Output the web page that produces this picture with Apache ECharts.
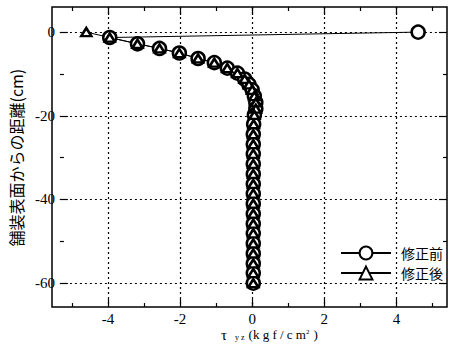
<!DOCTYPE html>
<html><head><meta charset="utf-8">
<script src="https://cdn.jsdelivr.net/npm/echarts@6/dist/echarts.min.js"></script>
<style>html,body{margin:0;padding:0;background:#fff}#c{width:449px;height:350px}</style>
</head><body><div id="c"></div>
<script>
// ---- data ----
const seriesNames = ['修正前', '修正後'];
const depthCm   = [0, -1.3, -2.8, -3.9, -5.0, -6.3, -7.3, -8.6, -9.8, -11.2, -12.5, -13.8, -15.3, -16.8, -18.3, -19.8,
                   -22.0, -24.4, -26.8, -29.1, -31.5, -33.9, -36.3, -38.6, -41.0, -43.4, -45.8, -48.1, -50.5, -52.9, -55.3, -57.6, -60.0];
const tauBefore = [4.6, -3.95, -3.18, -2.57, -2.02, -1.50, -1.05, -0.69, -0.41, -0.21, -0.09, 0.00, 0.06, 0.10, 0.10, 0.06,
                   0.04, 0.03, 0.03, 0.03, 0.03, 0.03, 0.03, 0.03, 0.03, 0.03, 0.03, 0.03, 0.03, 0.03, 0.03, 0.03, 0.03];
const tauAfter  = [-4.6, -3.95, -3.18, -2.57, -2.02, -1.50, -1.05, -0.69, -0.41, -0.21, -0.09, 0.00, 0.06, 0.10, 0.10, 0.06,
                   0.04, 0.03, 0.03, 0.03, 0.03, 0.03, 0.03, 0.03, 0.03, 0.03, 0.03, 0.03, 0.03, 0.03, 0.03, 0.03, 0.03];
const xTicks = [-4, -2, 0, 2, 4];          // labelled ticks
const xOuterMinor = [-5, 5];               // minor ticks beyond the labelled range
const yTicks = [-60, -40, -20, 0];         // labelled ticks
const xRange = [-5.55, 5.4];               // plotted extent
const yRange = [-65.7, 6];
const yTitle = '舗装表面からの距離(cm)';

// ---- layout ----
const L = 52, T = 7, W = 395, H = 300;
const kx = W / (xRange[1] - xRange[0]);
const ky = H / (yRange[1] - yRange[0]);
const gx1Left = L + (xTicks[0] - xRange[0]) * kx;
const gx1W = (xTicks[xTicks.length - 1] - xTicks[0]) * kx;
const gx2Left = L + (xOuterMinor[0] - xRange[0]) * kx;
const gx2W = (xOuterMinor[1] - xOuterMinor[0]) * kx;
const gy3Top = T + (yRange[1] - yTicks[yTicks.length - 1]) * ky;
const gy3H = (yTicks[yTicks.length - 1] - yTicks[0]) * ky;

const serif = 'Liberation Serif';
const jp = 'Noto Sans CJK JP';
const dotted = { color: '#000', width: 1.2, type: [2, 3] };
const tickStyle = { color: '#000', width: 1.2 };
const hiddenVal = (gi) => ({ gridIndex: gi, type: 'value', min: 0, max: 1, show: false });

const chart = echarts.init(document.getElementById('c'), null, { renderer: 'svg' });
chart.setOption({
  animation: false,
  backgroundColor: '#fff',
  title: {
    text: '{t|τ}{s|y z}{p|(k g f / c m}{sup|2}{p|)}',
    left: 221, top: 328, padding: 0,
    textStyle: {
      fontWeight: 'normal',
      rich: {
        t: { fontFamily: serif, fontSize: 15, fontWeight: 'normal', color: '#000', lineHeight: 13 },
        s: { fontFamily: serif, fontSize: 8, fontWeight: 'normal', color: '#000', lineHeight: 8, verticalAlign: 'bottom', padding: [0, 0, 0, 8] },
        p: { fontFamily: serif, fontSize: 13, fontWeight: 'normal', color: '#000', lineHeight: 13, padding: [0, 0, 0, 4] },
        sup: { fontFamily: serif, fontSize: 7, fontWeight: 'normal', color: '#000', lineHeight: 7, verticalAlign: 'top' }
      }
    }
  },
  legend: {
    data: seriesNames,
    orient: 'vertical', left: 340, top: 245, padding: 0,
    itemWidth: 50, itemHeight: 16, itemGap: 4,
    textStyle: { fontFamily: jp, fontSize: 14, lineHeight: 16, color: '#000', padding: [0, 0, 0, 5] }
  },
  grid: [
    { left: L, top: T, width: W, height: H, show: true, borderColor: '#000', borderWidth: 1.5, backgroundColor: 'transparent' },
    { left: gx1Left, top: T, width: gx1W, height: H },
    { left: gx2Left, top: T, width: gx2W, height: H },
    { left: L, top: gy3Top, width: W, height: gy3H }
  ],
  xAxis: [
    { gridIndex: 0, type: 'value', min: xRange[0], max: xRange[1], show: false },
    { gridIndex: 1, type: 'value', position: 'bottom', min: xTicks[0], max: xTicks[xTicks.length - 1], interval: xTicks[1] - xTicks[0],
      axisLine: { show: false, onZero: false },
      axisTick: { show: true, inside: true, length: 8, lineStyle: tickStyle },
      minorTick: { show: true, splitNumber: 2, length: 4, lineStyle: tickStyle },
      axisLabel: { show: true, margin: 4, fontFamily: serif, fontSize: 15, lineHeight: 15, color: '#000' },
      splitLine: { show: true, lineStyle: dotted } },
    { gridIndex: 1, type: 'value', position: 'top', min: xTicks[0], max: xTicks[xTicks.length - 1], interval: xTicks[1] - xTicks[0],
      axisLine: { show: false, onZero: false },
      axisTick: { show: true, inside: true, length: 8, lineStyle: tickStyle },
      minorTick: { show: true, splitNumber: 2, length: 4, lineStyle: tickStyle },
      axisLabel: { show: false }, splitLine: { show: false } },
    { gridIndex: 2, type: 'value', position: 'bottom', min: xOuterMinor[0], max: xOuterMinor[1], interval: xOuterMinor[1],
      axisLine: { show: false, onZero: false },
      axisTick: { show: true, inside: true, length: 4, lineStyle: tickStyle },
      axisLabel: { show: false }, splitLine: { show: false } },
    { gridIndex: 2, type: 'value', position: 'top', min: xOuterMinor[0], max: xOuterMinor[1], interval: xOuterMinor[1],
      axisLine: { show: false, onZero: false },
      axisTick: { show: true, inside: true, length: 4, lineStyle: tickStyle },
      axisLabel: { show: false }, splitLine: { show: false } },
    Object.assign(hiddenVal(3), { axisLine: { show: false, onZero: false } })
  ],
  yAxis: [
    { gridIndex: 0, type: 'value', min: yRange[0], max: yRange[1], show: false },
    Object.assign(hiddenVal(1), { axisLine: { show: false, onZero: false } }),
    Object.assign(hiddenVal(2), { axisLine: { show: false, onZero: false } }),
    { gridIndex: 3, type: 'value', position: 'left', min: yTicks[0], max: yTicks[yTicks.length - 1], interval: yTicks[1] - yTicks[0],
      axisLine: { show: false, onZero: false },
      axisTick: { show: true, inside: true, length: 8, lineStyle: tickStyle },
      minorTick: { show: true, splitNumber: 2, length: 4, lineStyle: tickStyle },
      axisLabel: { show: true, margin: 5, fontFamily: serif, fontSize: 15, color: '#000' },
      splitLine: { show: true, lineStyle: dotted },
      name: yTitle, nameLocation: 'middle', nameRotate: 90, nameGap: 29,
      nameTextStyle: { fontFamily: jp, fontSize: 16, color: '#000' } },
    { gridIndex: 3, type: 'value', position: 'right', min: yTicks[0], max: yTicks[yTicks.length - 1], interval: yTicks[1] - yTicks[0],
      axisLine: { show: false, onZero: false },
      axisTick: { show: true, inside: true, length: 8, lineStyle: tickStyle },
      minorTick: { show: true, splitNumber: 2, length: 4, lineStyle: tickStyle },
      axisLabel: { show: false }, splitLine: { show: false } }
  ],
  series: [
    { name: seriesNames[0], type: 'line', xAxisIndex: 0, yAxisIndex: 0, clip: false,
      data: depthCm.map((d, i) => [tauBefore[i], d]),
      symbol: 'circle', symbolSize: 13,
      lineStyle: { color: '#000', width: 1 },
      itemStyle: { color: '#fff', borderColor: '#000', borderWidth: 2.5 } },
    { name: seriesNames[1], type: 'line', xAxisIndex: 0, yAxisIndex: 0, clip: false,
      data: depthCm.map((d, i) => [tauAfter[i], d]),
      symbol: 'triangle', symbolSize: [10, 8],
      lineStyle: { color: '#000', width: 1 },
      itemStyle: { color: '#fff', borderColor: '#000', borderWidth: 2.5 } }
  ]
});
</script></body></html>
